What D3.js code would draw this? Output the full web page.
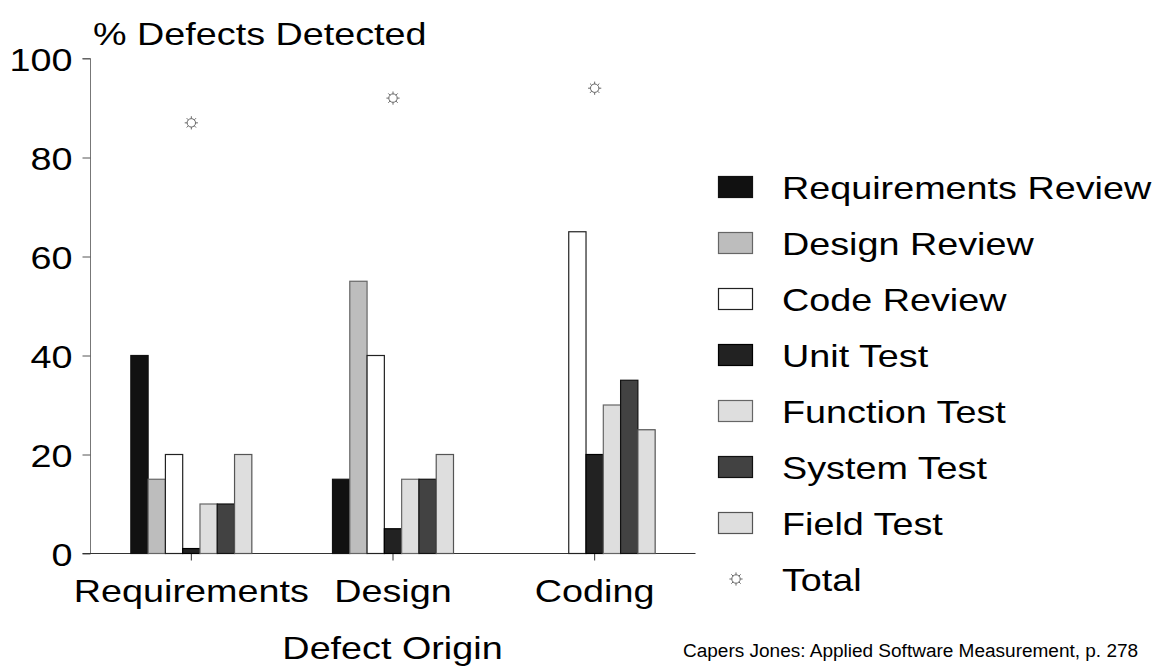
<!DOCTYPE html>
<html><head><meta charset="utf-8">
<script src="https://cdn.jsdelivr.net/npm/d3@7"></script>
<style>body{margin:0;background:#fff}svg{display:block}text{font-family:"Liberation Sans",Arial,sans-serif;fill:#000}</style>
</head><body><svg id="c" width="1162" height="666"></svg>
<script>
const categories = ["Requirements", "Design", "Coding"];
const seriesNames = ["Requirements Review", "Design Review", "Code Review", "Unit Test", "Function Test", "System Test", "Field Test"];
const requirementsReview = [40, 15, 0];
const designReview = [15, 55, 0];
const codeReview = [20, 40, 65];
const unitTest = [1, 5, 20];
const functionTest = [10, 15, 30];
const systemTest = [10, 15, 35];
const fieldTest = [20, 20, 25];
const totals = [87, 92, 94];
const yTicks = [0, 20, 40, 60, 80, 100];
const fills = ["#111111", "#bdbdbd", "#ffffff", "#222222", "#dedede", "#424242", "#dedede"];
const strokes = ["#111", "#666", "#222", "#000", "#666", "#111", "#555"];

const SX = 1.18;
const series = [requirementsReview, designReview, codeReview, unitTest, functionTest, systemTest, fieldTest];
const svg = d3.select("#c");
const x0 = d3.scaleBand().domain(categories).range([90.5, 695.5]).padding(0);
const x1 = d3.scaleBand().domain(d3.range(seriesNames.length)).range([0, x0.bandwidth()*0.6]).padding(0);
const y = d3.scaleLinear().domain([0, 100]).range([553.5, 58.5]);

function stretch(sel, s) {
  sel.each(function() {
    const t = d3.select(this);
    const xx = +t.attr("x") || 0, yy = +t.attr("y") || 0;
    t.attr("x", 0).attr("y", 0).attr("transform", `translate(${xx},${yy}) scale(${s},1)`);
  });
}

// y axis
const ya = svg.append("g").attr("transform", "translate(90.5,0)")
  .call(d3.axisLeft(y).tickValues(yTicks).tickSize(8).tickPadding(10));
ya.select(".domain").attr("stroke", "#777").attr("d", `M-8,${y(100)}H0V${y(0)}`);
ya.selectAll(".tick line").attr("stroke", "#555");
ya.selectAll(".tick text").style("font-size", "32px").attr("fill", "#000").attr("dy", "0.36em").call(stretch, SX);

// x axis
const xa = svg.append("g").attr("transform", `translate(0,${y(0)})`)
  .call(d3.axisBottom(x0).tickSize(7).tickPadding(19));
xa.select(".domain").attr("stroke", "#333").attr("d", `M82.5,0H695.5`);
xa.selectAll(".tick line").attr("stroke", "#333");
xa.selectAll(".tick text").style("font-size", "32px").attr("fill", "#000").call(stretch, SX);

// bars
const groups = svg.append("g").selectAll("g").data(categories).join("g")
  .attr("transform", c => `translate(${x0(c) + x0.bandwidth()*0.2},0)`);
groups.selectAll("rect").data((c, ci) => series.map((s, si) => ({si, v: s[ci]}))).join("rect")
  .attr("x", d => x1(d.si))
  .attr("width", x1.bandwidth())
  .attr("y", d => y(d.v))
  .attr("height", d => y(0) - y(d.v))
  .attr("fill", d => fills[d.si])
  .attr("stroke", d => strokes[d.si])
  .attr("stroke-width", 1.2);

// star symbol
function star(g, cx, cy) {
  const s = g.append("g").attr("transform", `translate(${cx},${cy})`).attr("stroke", "#666").attr("fill", "none").attr("stroke-width", 1);
  s.append("circle").attr("r", 4.2);
  for (let i = 0; i < 8; i++) {
    const a = i * Math.PI / 4;
    s.append("line").attr("x1", 4.2*Math.cos(a)).attr("y1", 4.2*Math.sin(a))
      .attr("x2", 6.6*Math.cos(a)).attr("y2", 6.6*Math.sin(a));
  }
}
categories.forEach((c, i) => star(svg, x0(c) + x0.bandwidth()/2, y(totals[i])));

// titles
svg.append("text").attr("x", 93).attr("y", 45).style("font-size", "32px").text("% Defects Detected").call(stretch, SX);
svg.append("text").attr("x", (90+695)/2).attr("y", 659).attr("text-anchor", "middle").style("font-size", "32px").text("Defect Origin").call(stretch, SX);
svg.append("text").attr("x", 683).attr("y", 657).style("font-size", "18px").text("Capers Jones: Applied Software Measurement, p. 278").call(stretch, 1.056);

// legend
const lg = svg.append("g");
seriesNames.forEach((n, i) => {
  const cy = 187 + i*56;
  lg.append("rect").attr("x", 718.5).attr("y", cy - 10.5).attr("width", 34).attr("height", 21)
    .attr("fill", fills[i]).attr("stroke", strokes[i]).attr("stroke-width", 1.2);
  lg.append("text").attr("x", 782).attr("y", cy).attr("dy", "0.36em").style("font-size", "32px").text(n).call(stretch, SX);
});
star(lg, 736, 187 + 7*56);
lg.append("text").attr("x", 782).attr("y", 187 + 7*56).attr("dy", "0.36em").style("font-size", "32px").text("Total").call(stretch, SX);
</script></body></html>
